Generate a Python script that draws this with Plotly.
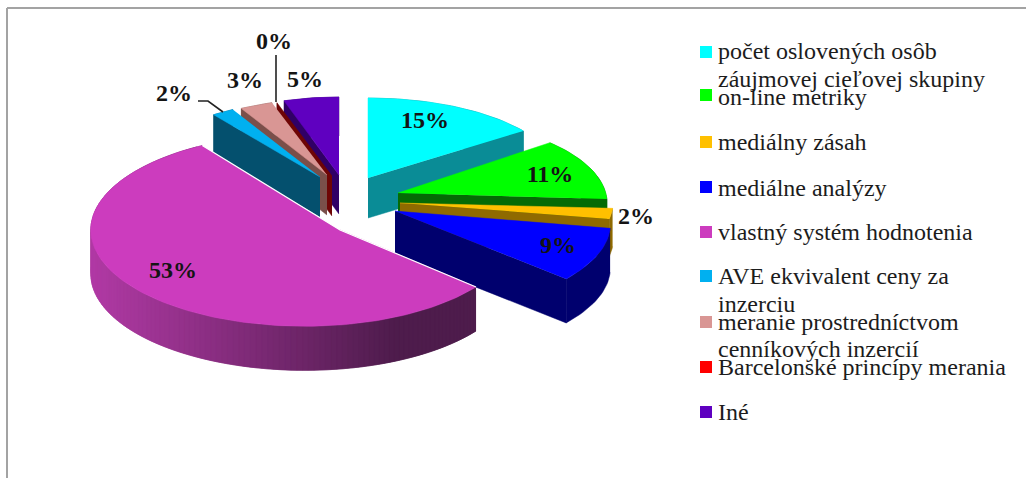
import numpy as np
import plotly.graph_objects as go

# Survey shares, in percent, clockwise from twelve o'clock
categories = [
    "počet oslovených osôb<br>záujmovej cieľovej skupiny",
    "on-line metriky",
    "mediálny zásah",
    "mediálne analýzy",
    "vlastný systém hodnotenia",
    "AVE ekvivalent ceny za<br>inzerciu",
    "meranie prostredníctvom<br>cenníkových inzercií",
    "Barcelonské princípy merania",
    "Iné",
]
shares = [15, 11, 2, 9, 53, 2, 3, 0, 5]
share_labels = ["15%", "11%", "2%", "9%", "53%", "2%", "3%", "0%", "5%"]

top_colors = ["#00FFFF", "#00FF00", "#FFC000", "#0000FF", "#CC3CBE",
              "#00B0F0", "#D99694", "#FF0000", "#5F00C0"]
side_colors = ["#0A8C96", "#056B05", "#8F6A00", "#00006E", "#5A1F58",
               "#04506E", "#7A4F4A", "#6E0505", "#300066"]

# Exploded wedge geometry: apex position, horizontal and vertical radius, wall height
apex_x = [368, 398, 400, 395, 340, 320, 327, 332, 339]
apex_y = [178, 193, 203, 211, 230, 177, 175, 176, 175]
radius_x = [192, 182, 213, 213, 213, 181, 178, 178, 178]
radius_y = [80, 83, 85, 90, 95, 77, 76, 77, 78]
wall = [40, 38, 38, 44, 44, 40, 40, 40, 39]

# Some wedges swell towards one side: index -> (amount, direction in degrees)
bulge = {1: (0.2, 135), 3: (0.15, 180), 4: (0.17, 270)}

# Wedges are painted back to front
paint_order = [0, 1, 2, 3, 8, 7, 6, 5, 4]

label_x = [425, 550, 636, 558, 173, 174, 245, 274, 305]
label_y = [122, 176, 218, 247, 272, 95, 82, 43, 81]

legend_swatch_y = [52, 95, 142, 187, 232, 276, 322, 367, 412]
legend_line_y = [[51, 79], [97], [142], [188], [232], [276, 304], [322, 349], [367], [412]]

leader_2_x, leader_2_y = [198, 208, 223], [101, 101, 112]
leader_0_x, leader_0_y = [276, 276], [55, 102]

edges = np.cumsum([0] + shares) * 3.6


def rim_point(i, theta_deg):
    t = np.radians(theta_deg)
    scale = 1.0
    if i in bulge:
        amount, centre = bulge[i]
        scale = 1 + amount * np.cos(np.radians(theta_deg - centre))
    return (apex_x[i] + radius_x[i] * scale * np.sin(t),
            apex_y[i] - radius_y[i] * scale * np.cos(t))


def polygon(xs, ys, color):
    return go.Scatter(x=list(xs), y=list(ys), mode="lines", fill="toself",
                      fillcolor=color, line=dict(color=color, width=0.5),
                      hoverinfo="skip", showlegend=False)


def mix(a, b, f):
    return "rgb(%d,%d,%d)" % tuple(a[k] + (b[k] - a[k]) * f for k in range(3))


fig = go.Figure()

for i in paint_order:
    start, end = edges[i], edges[i + 1]
    d = wall[i]
    steps = max(2, int((end - start) / 1.5) + 2)
    thetas = np.linspace(start, end, steps)
    px, py = zip(*[rim_point(i, th) for th in thetas])
    px, py = np.array(px), np.array(py)

    # Outer wall; the large wedge darkens from left to right, each band
    # reaching under the next one so no seams show
    if i == 4:
        light, dark = (176, 58, 164), (78, 28, 76)
        for k in range(len(thetas) - 1, 0, -1):
            j = max(0, k - 2)
            f = min(1, max(0, (px[k] - 95) / 300))
            fig.add_trace(polygon(
                [px[j], px[k], px[k], px[j]],
                [py[j], py[k], py[k] + d, py[j] + d],
                mix(light, dark, f)))
    else:
        fig.add_trace(polygon(
            np.r_[px, px[::-1]], np.r_[py, py[::-1] + d], side_colors[i]))

    # Cut face turned towards the viewer
    if end <= 180 and i != 4:
        ex, ey = px[-1], py[-1]
        fig.add_trace(polygon(
            [apex_x[i], ex, ex, apex_x[i]],
            [apex_y[i], ey, ey + d, apex_y[i] + d], side_colors[i]))
    elif start >= 180 and i != 4:
        sx, sy = px[0], py[0]
        fig.add_trace(polygon(
            [apex_x[i], sx, sx, apex_x[i]],
            [apex_y[i], sy, sy + d, apex_y[i] + d], side_colors[i]))

    # Top face
    if shares[i] > 0:
        fig.add_trace(polygon(
            np.r_[apex_x[i], px], np.r_[apex_y[i], py], top_colors[i]))

    # Pale seam along the cut edges of the large wedge
    if i == 4:
        fig.add_trace(go.Scatter(
            x=[px[0], apex_x[i], px[-1]], y=[py[0], apex_y[i], py[-1]],
            mode="lines", line=dict(color="#FFFFFF", width=1.2),
            hoverinfo="skip", showlegend=False))

# Leader lines for the two small labels
for lx, ly in ((leader_2_x, leader_2_y), (leader_0_x, leader_0_y)):
    fig.add_trace(go.Scatter(x=lx, y=ly, mode="lines",
                             line=dict(color="#222222", width=1.6),
                             hoverinfo="skip", showlegend=False))

# Share labels
fig.add_trace(go.Scatter(
    x=label_x, y=label_y, mode="text", text=share_labels,
    textposition="middle center",
    textfont=dict(family="Liberation Serif", size=24, color="#141414", weight="bold"),
    hoverinfo="skip", showlegend=False))

# Legend column
fig.add_trace(go.Scatter(
    x=[706] * len(categories), y=legend_swatch_y, mode="markers",
    marker=dict(symbol="square", size=12, color=top_colors, line=dict(width=0)),
    hoverinfo="skip", showlegend=False))
for name, line_ys in zip(categories, legend_line_y):
    for part, ty in zip(name.split("<br>"), line_ys):
        fig.add_annotation(x=717, y=ty, xref="x", yref="y", text=part, showarrow=False,
                           xanchor="left", yanchor="middle", align="left", borderpad=0,
                           font=dict(family="Liberation Serif", size=24, color="#1C1C1C"))

# Frame of the chart area, open towards the right and the bottom
frame = dict(type="line", xref="x", yref="y", line=dict(color="#A3A3A3", width=2))
fig.update_layout(
    width=1026, height=478, margin=dict(l=0, r=0, t=0, b=0),
    paper_bgcolor="#FFFFFF", plot_bgcolor="#FFFFFF", showlegend=False,
    xaxis=dict(range=[0, 1026], visible=False, fixedrange=True),
    yaxis=dict(range=[478, 0], visible=False, fixedrange=True),
    shapes=[dict(frame, x0=7, x1=7, y0=8, y1=478),
            dict(frame, x0=7, x1=1026, y0=8, y1=8)],
)

fig.write_html("out.html")
